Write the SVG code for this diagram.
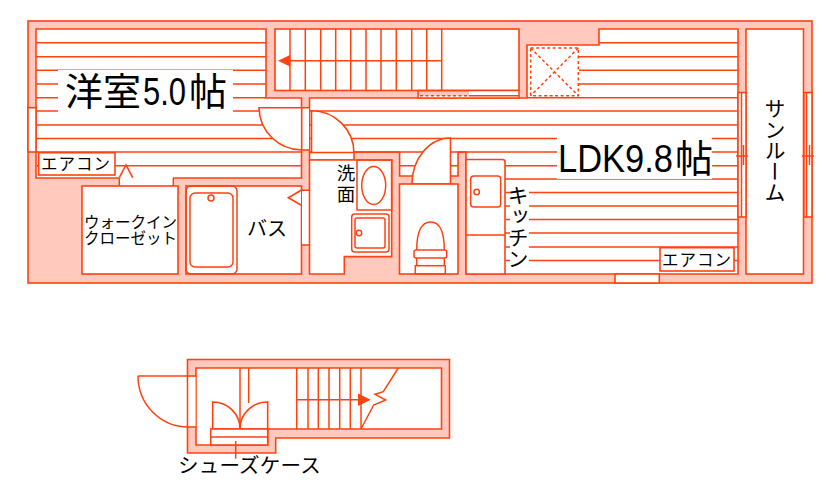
<svg xmlns="http://www.w3.org/2000/svg" width="840" height="499" viewBox="0 0 840 499">
<style>
.w{fill:#ffc9bd;stroke:#ff4210;stroke-width:1.6}
.r{fill:#fff;stroke:#ff4210;stroke-width:1.6}
.l{fill:none;stroke:#ff4210;stroke-width:1.5}
.d{fill:none;stroke:#ff4210;stroke-width:1.5;stroke-dasharray:3 2.5}
.a{fill:#ff4210;stroke:none}
.b{fill:#fff;stroke:none}
text{fill:#000;font-family:"Noto Sans CJK JP","Liberation Sans",sans-serif}
.v{writing-mode:vertical-rl;text-orientation:upright}
.n{font-family:"Liberation Sans",sans-serif}
</style>
<rect width="840" height="499" fill="#fff"/>
<g id="walls">
<rect class="w" x="28" y="21" width="784" height="262"/>
<path class="w" d="M187.500 359.500H449.500V438H275.700V453H187.500Z"/>
</g>
<g id="room-western">
<path class="r" d="M36 29H266V98H301.500V178H36Z"/>
<path class="l" d="M36 42.700H266M36 56.700H266M36 70.300H266M36 84H266M36 97.700H266M36 111H301.500M36 125H301.500M36 138.500H301.500M36 152H301.500M36 165.700H301.500"/>
<rect class="b" x="58" y="70" width="175" height="42"/>
<text y="105" font-size="38"><tspan x="65">洋室</tspan><tspan x="143" class="n" textLength="43" lengthAdjust="spacingAndGlyphs">5.0</tspan><tspan x="189">帖</tspan></text>
</g>
<g id="room-ldk">
<path class="r" d="M309.500 98V152H399.600V176H458V152H466V274H738V29H599V45H527V98Z"/>
<path class="l" d="M599 42.700H738M578 56.700H738M578 70.300H738M578 84H738M527 97.700H738M310 111H738M310 125H738M310 138.500H738M354 152H399.600M458 152H466M400 152H738M400 165.700H458M466 165.700H738M505 179H738M505 192.500H738M505 206H738M505 219.500H738M505 233H738M505 247H738M505 260.500H738"/>
<rect class="b" x="557" y="129" width="155" height="50"/>
<rect class="b" x="510" y="180" width="19" height="90"/>
<text y="172" font-size="38"><tspan x="558" class="n" textLength="115" lengthAdjust="spacingAndGlyphs">LDK9.8</tspan><tspan x="675">帖</tspan></text>
<text class="v" x="518" y="185" font-size="21">キッチン</text>
</g>
<g id="stairs">
<rect class="r" x="275" y="29" width="244" height="61.500"/>
<path class="l" d="M290 29V90.500M305.300 29V90.500M320.700 29V90.500M335.700 29V90.500M350.700 29V90.500M366 29V90.500M381 29V90.500M396.300 29V90.500M411.700 29V90.500M426.700 29V90.500M441.700 29V90.500M441.700 60.700H285"/>
<path class="a" d="M278 60.700L290 55V66.500Z"/>
<rect class="b" x="418" y="96" width="101" height="2"/>
<rect class="b" x="469" y="91" width="50" height="5"/>
<rect class="l" x="418" y="90.500" width="101" height="7.500"/>
<path class="d" d="M420 95.700H469"/>
<path class="l" d="M469 95.700H519"/>
</g>
<g id="pipe-space">
<rect class="b" x="528" y="47" width="51" height="49"/>
<rect class="d" x="530.700" y="48" width="47.600" height="47.700"/>
<path class="d" d="M530.700 48L578.300 95.700M578.300 48L530.700 95.700"/>
</g>
<g id="door-western">
<rect class="b" x="302" y="108" width="7" height="41.500"/>
<path class="r" d="M259 107.700H301.700V150A43 43 0 0 1 259 107.700Z"/>
<path class="l" d="M301.500 107.700H309.500M301.500 150H309.500"/>
</g>
<g id="door-wash">
<path class="r" d="M311.500 110.700A42.500 42.500 0 0 1 354 153.200V160H309.500V152.500H311.500Z"/>
<path class="l" d="M309.500 152.500H354"/>
</g>
<g id="closet">
<rect class="b" x="119.500" y="177" width="53.500" height="9.500"/>
<path class="l" d="M119.300 178V186M173.300 178V186"/>
<path class="r" d="M119.300 177.700L126 165L132.700 177.700"/>
<rect class="r" x="82" y="186" width="96" height="88"/>
<text font-size="15.500"><tspan x="84" y="228">ウォークイン</tspan><tspan x="84" y="244">クローゼット</tspan></text>
</g>
<g id="aircon-west">
<rect class="r" x="38.700" y="152.700" width="76.300" height="22.300"/>
<text x="41" y="170" font-size="16.500" letter-spacing="1">エアコン</text>
</g>
<g id="bath">
<rect class="r" x="186" y="186" width="115.500" height="88"/>
<rect class="l" x="186" y="186" width="51" height="88" rx="5"/>
<rect class="l" x="190" y="193" width="43" height="74" rx="5"/>
<circle class="l" cx="211" cy="198" r="3"/>
<text x="247" y="236" font-size="20">バス</text>
<rect class="b" x="302" y="190.500" width="7" height="54"/>
<path class="l" d="M301.500 190.300H309.500M301.500 245H309.500"/>
<path class="r" d="M301 190.300L288.300 197.700L301 205"/>
</g>
<g id="washroom">
<path class="r" d="M309.500 160H391.700V256.600H344.300V274H309.500Z"/>
<rect class="l" x="357" y="160" width="34.700" height="50"/>
<ellipse class="l" cx="373.700" cy="185.500" rx="12" ry="19"/>
<rect class="l" x="351.700" y="214" width="37.300" height="38" rx="3"/>
<rect class="l" x="355" y="218" width="30" height="30" rx="2"/>
<circle class="l" cx="359" cy="233" r="2.700"/>
<text class="v" x="346" y="164" font-size="18.500" letter-spacing="2.500">洗面</text>
</g>
<g id="toilet">
<path class="r" d="M450.500 138V184H412A38.500 46 0 0 1 450.500 138Z"/>
<rect class="r" x="399.500" y="184" width="58.500" height="90"/>
<path class="l" d="M416.700 250C416.700 232 421 222 430.700 222S444.300 232 444.300 250"/>
<rect class="l" x="414" y="250" width="32.700" height="8" rx="2"/>
<path class="l" d="M416.700 258V265.700M444.300 258V265.700"/>
<rect class="l" x="415.300" y="265.700" width="30" height="8.300"/>
</g>
<g id="kitchen">
<path class="r" d="M466 159.500H502.500Q505 159.500 505 162V274H466Z"/>
<rect class="l" x="470.700" y="176" width="30" height="31" rx="3"/>
<circle class="l" cx="476.700" cy="192" r="2.700"/>
<path class="l" d="M466 235H505"/>
</g>
<g id="aircon-ldk">
<rect class="r" x="660" y="247.700" width="74" height="23.300"/>
<text x="662" y="266" font-size="16.500" letter-spacing="1">エアコン</text>
</g>
<g id="sunroom">
<rect class="r" x="746" y="29" width="57.500" height="245"/>
<text class="v" x="775" y="98" font-size="21">サンルーム</text>
</g>
<g id="openings">
<rect class="r" x="28" y="107.700" width="8" height="44.300"/>
<rect class="r" x="738" y="92.500" width="8" height="124.500"/>
<rect class="r" x="804" y="92.500" width="8" height="124.500"/>
<path class="l" d="M741.500 92.500V217M806.500 92.500V217M743.500 145V165M809.500 145V165M736 156H748M802 156H814"/>
<rect class="r" x="615" y="274" width="44.300" height="9"/>
</g>
<g id="lower-floor">
<path class="r" d="M196 368H441.500V429H267.700V445H196Z"/>
<rect class="b" x="188.500" y="376.800" width="7" height="49.500"/>
<path class="l" d="M138 376H196M187.500 427H196"/>
<path class="l" d="M138 376A50 51 0 0 0 188 427"/>
<path class="l" d="M240 368V429M248.700 368V403"/>
<path class="r" d="M212.700 429V402C228 402 240 414 240 429C240 414 252 402 267.700 402V429Z"/>
<rect class="r" x="210.700" y="429" width="57" height="16"/>
<path class="l" d="M210.700 437H267.700M235.700 441V458.700"/>
<path class="l" d="M296.700 368V429M308 368V429M318.300 368V429M329 368V429M339.700 368V429M350.300 368V429M361 368V429M296.700 399.700H360M398.300 368L383.300 391.700L375 394.300L385.700 400L373.700 405L361 429"/>
<path class="a" d="M370.700 399.700L358 393.500V406Z"/>
<text x="178" y="473" font-size="20.500" letter-spacing="0.200">シューズケース</text>
</g>
</svg>
